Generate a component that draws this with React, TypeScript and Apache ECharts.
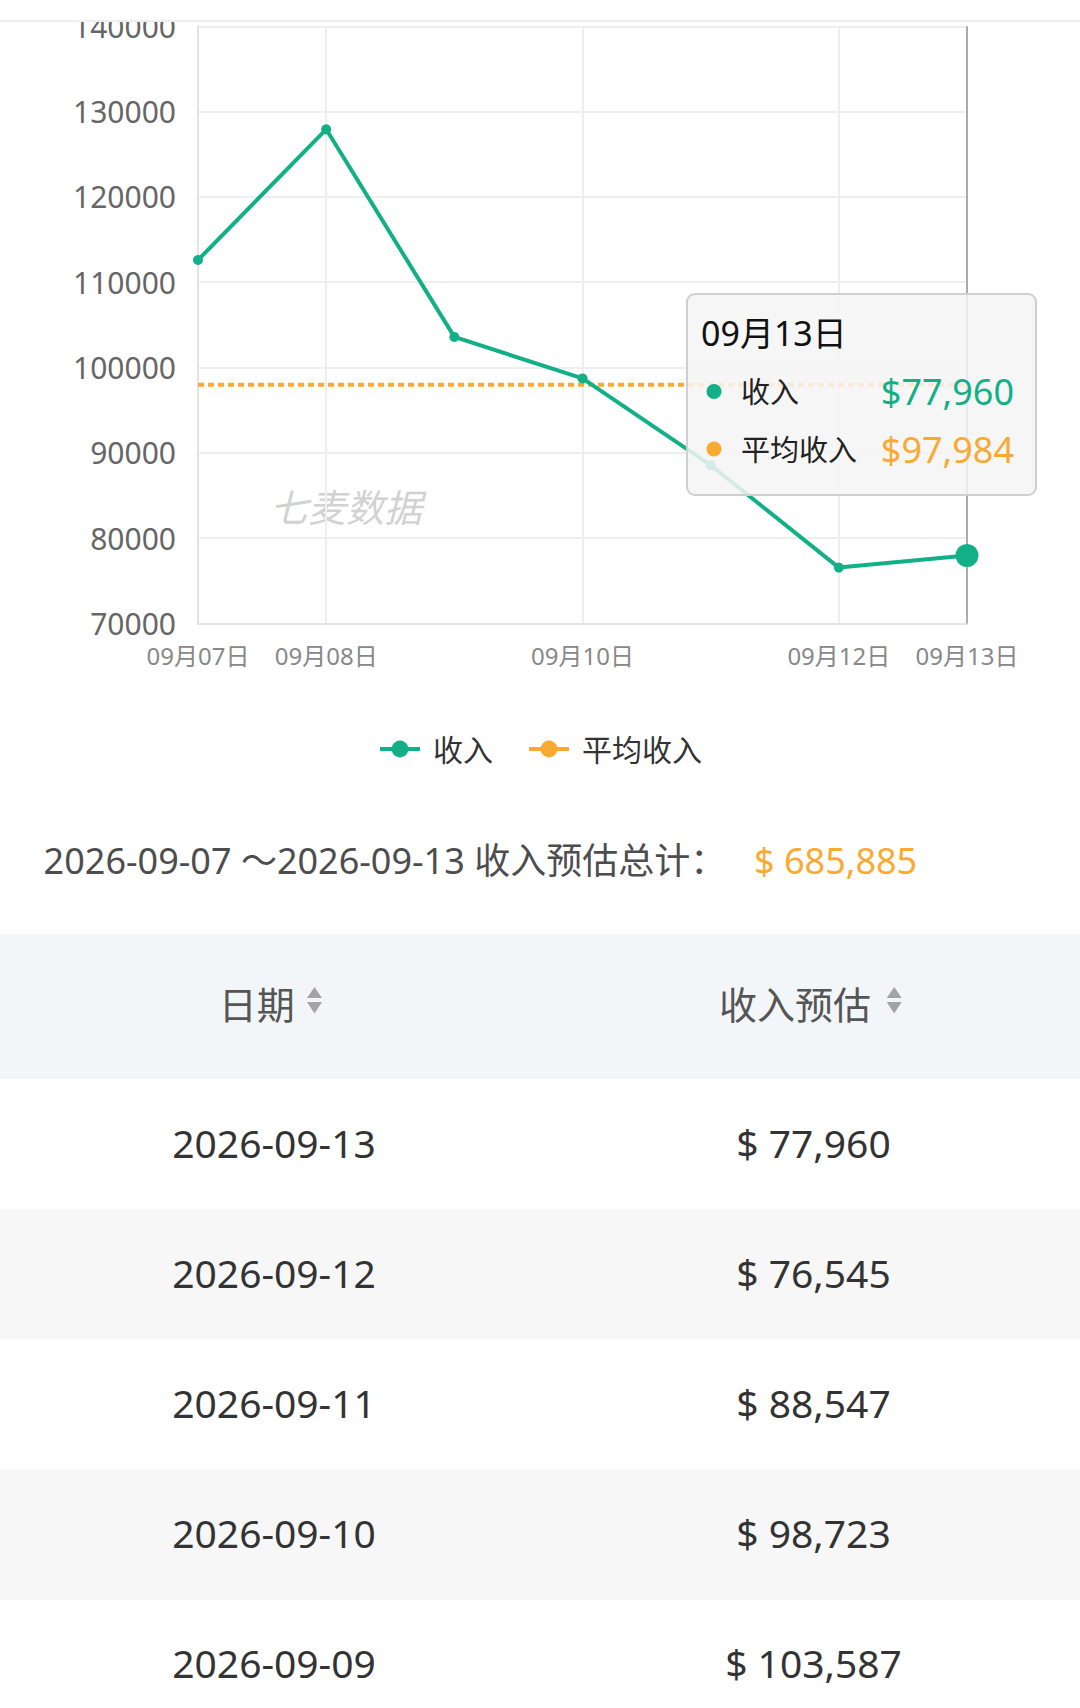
import React, { useEffect, useRef } from 'react';
import * as echarts from 'echarts';

// ---------------- data ----------------
const dates = ['2026-09-07', '2026-09-08', '2026-09-09', '2026-09-10', '2026-09-11', '2026-09-12', '2026-09-13'];
const revenue = [112600, 127923, 103587, 98723, 88547, 76545, 77960];
const seriesNames = ['收入', '平均收入'];
const tableHeaders = ['日期', '收入预估'];
const summaryLabel = '收入预估总计：';
const watermarkText = '七麦数据';
const yMin = 70000;
const yMax = 140000;
const yStep = 10000;
const focusIndex = 6;

// ---------------- style ----------------
const GREEN = '#13b087';
const ORANGE = '#faa933';
const FONT = "'Noto Sans', 'Noto Sans CJK SC', sans-serif";
const W = 1080;
const H = 1708;

const fmt = (n: number) => n.toLocaleString('en-US');
const catLabel = (d: string) => {
  const p = d.split('-');
  return `${p[1]}月${p[2]}日`;
};

export default function App() {
  const ref = useRef<HTMLDivElement>(null);

  useEffect(() => {
    document.body.style.margin = '0';
    const chart = echarts.init(ref.current as HTMLDivElement, null, { renderer: 'svg', width: W, height: H });

    const cats = dates.map(catLabel);
    const last = cats.length - 1;
    const total = revenue.reduce((a, b) => a + b, 0);
    const avg = Math.round(total / revenue.length);

    const graphics: any[] = [];

    // top header bar (page scrolled)
    graphics.push({ type: 'rect', z: 300, shape: { x: 0, y: 0, width: W, height: 21 }, style: { fill: '#ffffff' } });
    graphics.push({ type: 'line', z: 301, shape: { x1: 0, y1: 21, x2: W, y2: 21 }, style: { stroke: '#eeeeee', lineWidth: 2 } });

    // watermark
    graphics.push({
      type: 'text', z: 0, x: 346, y: 507,
      style: { text: watermarkText, fontSize: 38, fontStyle: 'italic', fill: '#d2d2d2', fontFamily: FONT, align: 'center', verticalAlign: 'middle' },
    });

    // tooltip box
    const tipX = 687, tipY = 294, tipW = 349, tipH = 201;
    graphics.push({
      type: 'rect', z: 200,
      shape: { x: tipX, y: tipY, width: tipW, height: tipH, r: 8 },
      style: { fill: 'rgba(245,245,245,0.86)', stroke: '#cfcfcf', lineWidth: 2 },
    });
    graphics.push({
      type: 'text', z: 201, x: tipX + 14, y: tipY + 39,
      style: { text: cats[focusIndex], fontSize: 34, fill: '#111111', fontFamily: FONT, verticalAlign: 'middle' },
    });
    const tipRows = [
      { name: seriesNames[0], value: revenue[focusIndex], color: GREEN },
      { name: seriesNames[1], value: avg, color: ORANGE },
    ];
    tipRows.forEach((r, i) => {
      const cy = tipY + 97.5 + i * 57.6;
      graphics.push({ type: 'circle', z: 201, shape: { cx: tipX + 27, cy, r: 7.5 }, style: { fill: r.color } });
      graphics.push({
        type: 'text', z: 201, x: tipX + 54, y: cy,
        style: { text: r.name, fontSize: 29, fill: '#222222', fontFamily: FONT, verticalAlign: 'middle' },
      });
      graphics.push({
        type: 'text', z: 201, x: tipX + tipW - 22, y: cy,
        style: { text: '$' + fmt(r.value), fontSize: 36, fill: r.color, fontFamily: FONT, align: 'right', verticalAlign: 'middle' },
      });
    });

    // summary line
    graphics.push({
      type: 'text', z: 10, x: 43.6, y: 860,
      style: { text: `${dates[0]} ～${dates[last]} ${summaryLabel}`, fontSize: 36, fill: '#4d4d4d', fontFamily: FONT, verticalAlign: 'middle' },
    });
    graphics.push({
      type: 'text', z: 10, x: 754, y: 860,
      style: { text: '$ ' + fmt(total), fontSize: 36, fill: ORANGE, fontFamily: FONT, verticalAlign: 'middle' },
    });

    // table header
    const headTop = 934, headH = 145;
    graphics.push({ type: 'rect', z: 1, shape: { x: 0, y: headTop, width: W, height: headH }, style: { fill: '#f3f6f9' } });
    const headCols = [
      { text: tableHeaders[0], cx: 256.7, iconX: 314.5 },
      { text: tableHeaders[1], cx: 795, iconX: 894.2 },
    ];
    headCols.forEach((c) => {
      graphics.push({
        type: 'text', z: 10, x: c.cx, y: 1004,
        style: { text: c.text, fontSize: 38, fill: '#555555', fontFamily: FONT, align: 'center', verticalAlign: 'middle' },
      });
      graphics.push({
        type: 'polygon', z: 10,
        shape: { points: [[c.iconX, 987], [c.iconX + 7.5, 998], [c.iconX - 7.5, 998]] },
        style: { fill: '#a3a3a3' },
      });
      graphics.push({
        type: 'polygon', z: 10,
        shape: { points: [[c.iconX - 7.5, 1002], [c.iconX + 7.5, 1002], [c.iconX, 1013.5]] },
        style: { fill: '#a3a3a3' },
      });
    });

    // table rows (newest first)
    const rowTop = headTop + headH;
    const rowH = 130.2;
    const order = revenue.map((_, i) => i).reverse();
    order.forEach((idx, r) => {
      const y0 = rowTop + r * rowH;
      if (y0 >= H) return;
      graphics.push({
        type: 'rect', z: 1, shape: { x: 0, y: y0, width: W, height: rowH },
        style: { fill: r % 2 === 1 ? '#f7f7f7' : '#ffffff' },
      });
      const cy = y0 + rowH / 2 - 2;
      graphics.push({
        type: 'text', z: 10, x: 274, y: cy,
        style: { text: dates[idx], fontSize: 39, fill: '#333333', fontFamily: FONT, align: 'center', verticalAlign: 'middle' },
      });
      graphics.push({
        type: 'text', z: 10, x: 813.5, y: cy,
        style: { text: '$ ' + fmt(revenue[idx]), fontSize: 39, fill: '#333333', fontFamily: FONT, align: 'center', verticalAlign: 'middle' },
      });
    });

    const option: any = {
      animation: false,
      backgroundColor: '#ffffff',
      textStyle: { fontFamily: FONT },
      grid: { left: 198, top: 26.3, width: 769, height: 597.1, containLabel: false },
      legend: {
        data: seriesNames,
        top: 729,
        left: 'center',
        itemWidth: 40,
        itemHeight: 21,
        itemGap: 34,
        lineStyle: { type: 'solid', width: 4 },
        textStyle: { fontSize: 30, color: '#333333', fontFamily: FONT, padding: [0, 0, 0, 8] },
      },
      xAxis: {
        type: 'category',
        data: cats,
        boundaryGap: false,
        axisLine: { lineStyle: { color: '#e3e3e3', width: 2 } },
        axisTick: { show: false },
        axisLabel: {
          interval: (i: number) => i === 0 || i === last || i % 2 === 1,
          color: '#888888',
          fontSize: 24,
          margin: 20,
          fontFamily: FONT,
        },
        splitLine: {
          show: true,
          interval: (i: number) => i % 2 === 1 && i !== last,
          lineStyle: { color: '#eeeeee', width: 2 },
        },
        axisPointer: {
          show: true,
          type: 'line',
          value: focusIndex,
          status: 'show',
          z: 1,
          label: { show: false },
          lineStyle: { color: '#ababab', width: 2, type: 'solid' },
        },
      },
      yAxis: {
        type: 'value',
        min: yMin,
        max: yMax,
        interval: yStep,
        axisLine: { show: true, lineStyle: { color: '#e3e3e3', width: 2 } },
        axisTick: { show: false },
        axisLabel: { color: '#666666', fontSize: 30, margin: 22, fontFamily: FONT, formatter: (v: number) => String(v) },
        splitLine: { show: true, lineStyle: { color: '#eeeeee', width: 2 } },
      },
      series: [
        {
          name: seriesNames[0],
          type: 'line',
          z: 3,
          data: revenue.map((v, i) => (i === focusIndex ? { value: v, symbolSize: 23 } : v)),
          symbol: 'circle',
          symbolSize: 10,
          showSymbol: true,
          showAllSymbol: true,
          itemStyle: { color: GREEN },
          lineStyle: { color: GREEN, width: 4 },
          emphasis: { disabled: true },
        },
        {
          name: seriesNames[1],
          type: 'line',
          z: 2,
          data: revenue.map(() => avg),
          symbol: 'none',
          itemStyle: { color: ORANGE },
          lineStyle: { color: ORANGE, width: 4, type: [6, 4] },
          emphasis: { disabled: true },
        },
      ],
      graphic: graphics,
    };

    chart.setOption(option);
    return () => chart.dispose();
  }, []);

  return (
    <div
      ref={ref}
      style={{ position: 'absolute', left: 0, top: 0, width: W, height: H, background: '#ffffff' }}
    />
  );
}
